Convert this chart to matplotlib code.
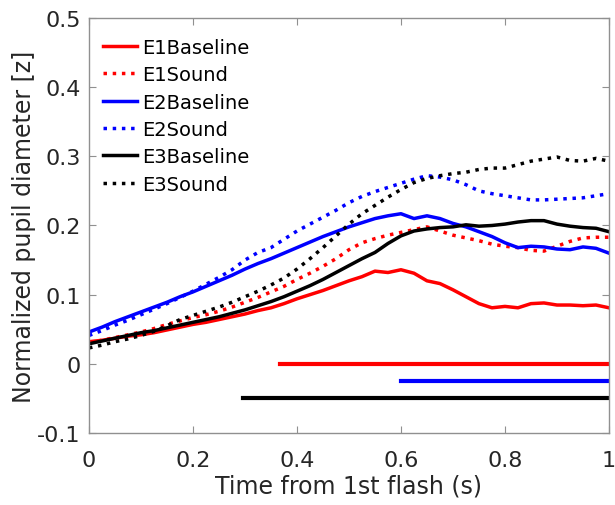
import numpy as np
import matplotlib
matplotlib.use('Agg')
import matplotlib.pyplot as plt

# time axis (s) and normalized pupil diameter
time = np.arange(41) * 0.025

e1_baseline = [0.032, 0.034, 0.037, 0.040, 0.042, 0.045, 0.049, 0.053, 0.057, 0.060,
               0.064, 0.068, 0.072, 0.077, 0.081, 0.087, 0.094, 0.100, 0.106, 0.113,
               0.120, 0.126, 0.134, 0.132, 0.136, 0.131, 0.120, 0.116, 0.107, 0.097,
               0.087, 0.081, 0.083, 0.081, 0.087, 0.088, 0.085, 0.085, 0.084, 0.085,
               0.081]
e1_sound = [0.031, 0.034, 0.038, 0.042, 0.046, 0.051, 0.057, 0.062, 0.067, 0.071,
            0.076, 0.082, 0.089, 0.096, 0.104, 0.112, 0.122, 0.131, 0.141, 0.152,
            0.165, 0.175, 0.181, 0.186, 0.190, 0.194, 0.198, 0.192, 0.186, 0.182,
            0.178, 0.173, 0.170, 0.168, 0.164, 0.163, 0.170, 0.177, 0.182, 0.183,
            0.183]
e2_baseline = [0.046, 0.053, 0.061, 0.068, 0.075, 0.082, 0.089, 0.097, 0.104, 0.112,
               0.120, 0.128, 0.137, 0.145, 0.152, 0.160, 0.168, 0.176, 0.184, 0.191,
               0.198, 0.204, 0.210, 0.214, 0.217, 0.210, 0.214, 0.210, 0.203, 0.198,
               0.191, 0.184, 0.175, 0.168, 0.170, 0.169, 0.166, 0.165, 0.169, 0.167,
               0.160]
e2_sound = [0.041, 0.048, 0.056, 0.063, 0.071, 0.079, 0.087, 0.096, 0.105, 0.115,
            0.125, 0.136, 0.150, 0.161, 0.168, 0.180, 0.192, 0.202, 0.212, 0.222,
            0.233, 0.242, 0.249, 0.255, 0.261, 0.267, 0.272, 0.270, 0.266, 0.259,
            0.250, 0.246, 0.243, 0.240, 0.237, 0.237, 0.238, 0.239, 0.240, 0.243,
            0.246]
e3_baseline = [0.029, 0.033, 0.037, 0.041, 0.045, 0.048, 0.052, 0.056, 0.060, 0.064,
               0.068, 0.073, 0.078, 0.084, 0.090, 0.097, 0.105, 0.113, 0.122, 0.132,
               0.142, 0.152, 0.161, 0.174, 0.185, 0.192, 0.195, 0.197, 0.198, 0.201,
               0.199, 0.200, 0.202, 0.205, 0.207, 0.207, 0.202, 0.199, 0.197, 0.196,
               0.191]
e3_sound = [0.023, 0.027, 0.032, 0.036, 0.041, 0.047, 0.055, 0.064, 0.070, 0.076,
            0.082, 0.089, 0.097, 0.105, 0.114, 0.124, 0.137, 0.152, 0.168, 0.185,
            0.202, 0.217, 0.229, 0.241, 0.252, 0.262, 0.268, 0.272, 0.275, 0.277,
            0.281, 0.283, 0.283, 0.288, 0.293, 0.296, 0.299, 0.294, 0.293, 0.297,
            0.293]

# significance bars: start time, level
sig_start = [0.367, 0.601, 0.297]
sig_level = [0.0, -0.025, -0.05]
sig_colors = ['red', 'blue', 'black']

fig = plt.figure(figsize=(6.15, 5.06), dpi=100)
ax = fig.add_axes([0.1447, 0.1423, 0.8455, 0.8202])

ax.plot(time, e1_baseline, color='red', lw=2.5, label='E1Baseline')
ax.plot(time, e1_sound, color='red', lw=2.5, ls=':', label='E1Sound')
ax.plot(time, e2_baseline, color='blue', lw=2.5, label='E2Baseline')
ax.plot(time, e2_sound, color='blue', lw=2.5, ls=':', label='E2Sound')
ax.plot(time, e3_baseline, color='black', lw=2.5, label='E3Baseline')
ax.plot(time, e3_sound, color='black', lw=2.5, ls=':', label='E3Sound')

for s, lv, c in zip(sig_start, sig_level, sig_colors):
    ax.plot([s, 1.0], [lv, lv], color=c, lw=3)

ax.set_xlim(0, 1)
ax.set_ylim(-0.1, 0.5)
ax.set_xticks([0, 0.2, 0.4, 0.6, 0.8, 1])
ax.set_xticklabels(['0', '0.2', '0.4', '0.6', '0.8', '1'])
ax.set_yticks([-0.1, 0, 0.1, 0.2, 0.3, 0.4, 0.5])
ax.set_yticklabels(['-0.1', '0', '0.1', '0.2', '0.3', '0.4', '0.5'])
ax.tick_params(direction='in', top=True, right=True, length=5, width=0.8,
               colors='#909090', labelcolor='#262626', labelsize=16)
ax.tick_params(axis='x', pad=12)
ax.tick_params(axis='y', pad=6)
for sp in ax.spines.values():
    sp.set_color('#909090')
    sp.set_linewidth(1.0)

ax.set_xlabel('Time from 1st flash (s)', fontsize=17, color='#262626', labelpad=3)
ax.set_ylabel('Normalized pupil diameter [z]', fontsize=17, color='#262626', labelpad=1)

ax.legend(loc='upper left', frameon=False, fontsize=14, handlelength=1.75,
          handletextpad=0.3, labelspacing=0.43, borderaxespad=0.3,
          bbox_to_anchor=(0.0, 0.985))

plt.savefig('out.png', dpi=100)
